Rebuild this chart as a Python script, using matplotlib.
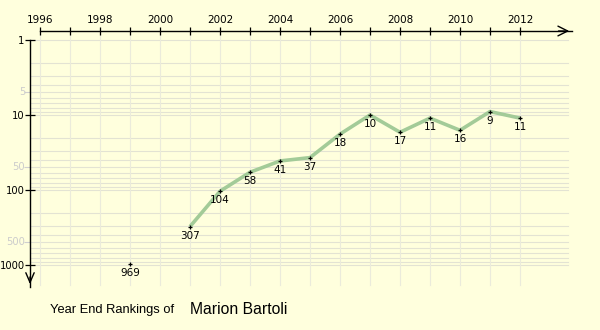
import numpy as np
import matplotlib
matplotlib.use("Agg")
import matplotlib.pyplot as plt
from matplotlib.ticker import FixedLocator, NullFormatter

# Year-end WTA rankings
years = [1999, 2000, 2001, 2002, 2003, 2004, 2005, 2006, 2007, 2008, 2009, 2010, 2011, 2012]
ranks = [969, np.nan, 307, 104, 58, 41, 37, 18, 10, 17, 11, 16, 9, 11]
year_ticks = list(range(1996, 2013))
year_labels = [str(y) if y % 2 == 0 else "" for y in year_ticks]
major_ranks = [1, 10, 100, 1000]
faint_ranks = [5, 50, 500]

BG = "#ffffdd"
LINE = "#a3cb98"
GRID = "#e3e3d3"
VGRID = "#ebebdb"

plt.rcParams["font.family"] = ["DejaVu Sans"]
W, H = 600, 330
fig = plt.figure(figsize=(W / 100, H / 100), dpi=100, facecolor=BG)

# axes box in pixels: left 30, right 572, top 31, bottom 287
left_px, right_px, top_px, bot_px = 30, 572, 31, 287
ax = fig.add_axes([left_px / W, 1 - bot_px / H, (right_px - left_px) / W, (bot_px - top_px) / H])
ax.set_facecolor(BG)

px_per_year = 30.0
px_per_decade = 75.0
x0 = 1996 - (40 - left_px) / px_per_year
x1 = 1996 + (right_px - 40) / px_per_year
ax.set_xlim(x0, x1)
ax.set_yscale("log")
y_top = 10 ** (-(40 - top_px) / px_per_decade)
y_bot = 10 ** ((bot_px - 40) / px_per_decade)
ax.set_ylim(y_bot, y_top)
y_grid_end = 10 ** ((285 - 40) / px_per_decade)

# grid
minor_vals = [m * 10 ** d for d in range(0, 4) for m in range(1, 10) if m * 10 ** d < y_bot]
for v in minor_vals:
    ax.plot([x0, 2013.6], [v, v], color=GRID, lw=0.8, zorder=0)
for yv in year_ticks:
    ax.plot([yv, yv], [y_top, y_grid_end], color=VGRID, lw=0.8, zorder=0)

# series
yrs = np.array(years, dtype=float)
rk = np.array(ranks, dtype=float)
ax.plot(yrs, rk, color=LINE, lw=2.6, solid_capstyle="butt", zorder=2)
ax.plot(yrs, rk, ls="none", marker="+", ms=3.5, mew=0.9, color="black", zorder=3)
for x, r in zip(years, ranks):
    if np.isnan(r):
        continue
    ax.annotate(f"{int(r)}", (x, r), xytext=(0, -3), textcoords="offset points",
                ha="center", va="top", fontsize=7.5, color="black", zorder=4)

# spines / axes lines
for s in ["right", "bottom"]:
    ax.spines[s].set_visible(False)
ax.spines["top"].set_bounds(1996, x1)
ax.spines["top"].set_linewidth(1.0)
ax.spines["left"].set_bounds(1, y_bot)
ax.spines["left"].set_linewidth(1.0)

ax.xaxis.tick_top()
ax.xaxis.set_major_locator(FixedLocator(year_ticks))
ax.set_xticklabels(year_labels, fontsize=7.5)
ax.tick_params(axis="x", direction="inout", length=6, width=0.9, pad=1)

ax.yaxis.set_major_locator(FixedLocator(major_ranks))
ax.set_yticklabels([str(v) for v in major_ranks], fontsize=7.2)
ax.yaxis.set_minor_locator(FixedLocator(faint_ranks))
ax.yaxis.set_minor_formatter(NullFormatter())
ax.tick_params(axis="y", which="major", direction="inout", length=7, width=0.9, pad=0.3)
ax.tick_params(axis="y", which="minor", direction="out", length=4, width=0.8, color="#cfcfcf")
for v in faint_ranks:
    ax.annotate(str(v), (0, v), xycoords=("axes fraction", "data"), xytext=(-3.5, 0),
                textcoords="offset points", ha="right", va="center", fontsize=7.2,
                color="#cccccc", annotation_clip=False)

# arrow heads
ax.annotate("", xy=(1, 1), xytext=(0.97, 1), xycoords="axes fraction",
            arrowprops=dict(arrowstyle="->,head_length=0.7,head_width=0.35", lw=1.0, color="black"),
            annotation_clip=False)
ax.annotate("", xy=(0, 0), xytext=(0, 0.05), xycoords="axes fraction",
            arrowprops=dict(arrowstyle="->,head_length=0.7,head_width=0.3", lw=1.0, color="black"),
            annotation_clip=False)

# caption
fig.text(50 / W, 1 - 310 / H, "Year End Rankings of", fontsize=9.3,
         family="Liberation Sans", va="center", ha="left")
fig.text(190 / W, 1 - 309 / H, "Marion Bartoli", fontsize=11.3,
         family="Liberation Sans", va="center", ha="left")

fig.savefig("out.png", dpi=100, facecolor=BG)
